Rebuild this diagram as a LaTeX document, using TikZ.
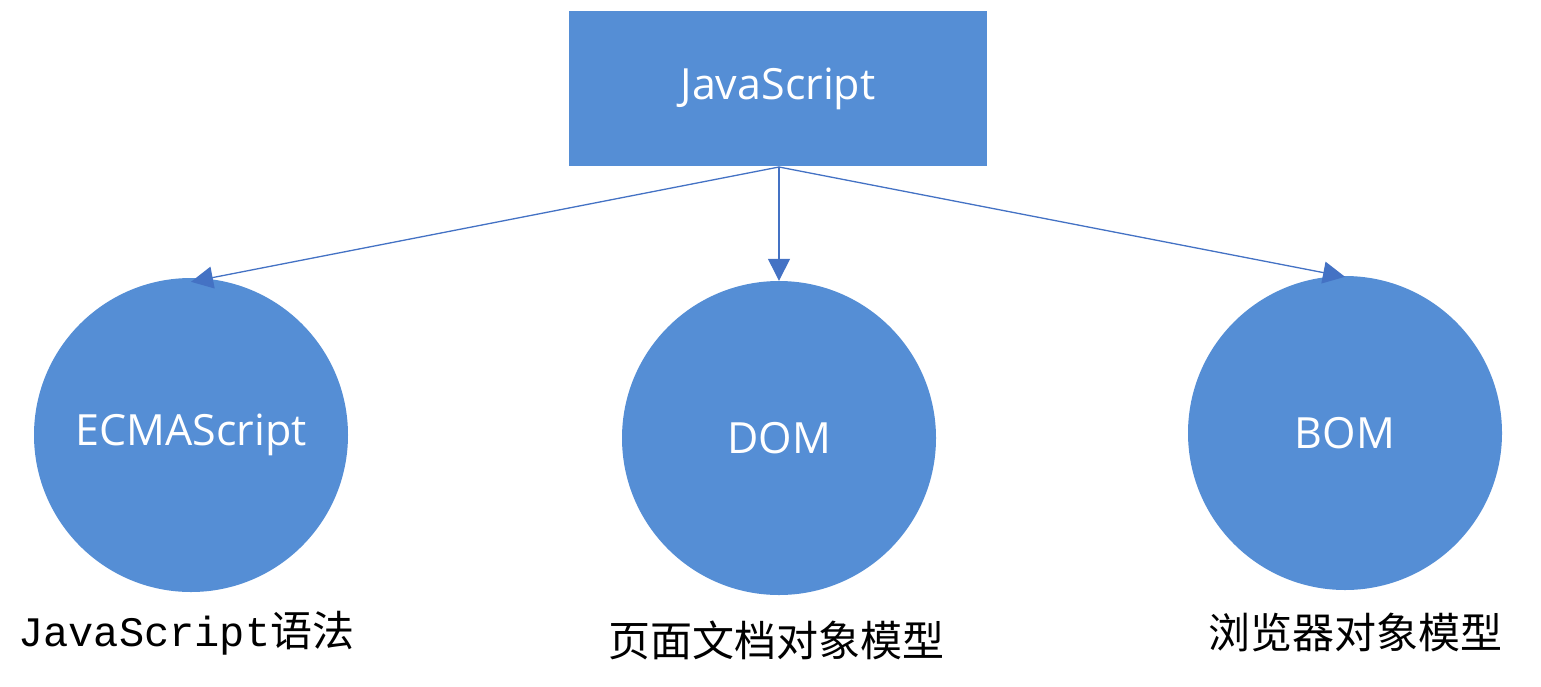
\documentclass[tikz,border=0pt]{standalone}
\usepackage{fontspec}
\setmainfont{Open Sans}
\newfontfamily\cjk{Noto Sans CJK SC}
\newfontfamily\monof{Liberation Mono}
\usetikzlibrary{arrows.meta}
\definecolor{fillblue}{HTML}{558ED5}
\definecolor{lineblue}{HTML}{4472C4}
\tikzset{
  topbox/.style={rectangle, fill=fillblue, minimum width=418pt, minimum height=155pt, inner sep=0pt, text=white, font=\fontsize{43}{48}\selectfont},
  ball/.style={circle, fill=fillblue, minimum size=314pt, inner sep=0pt, text=white, font=\fontsize{43}{48}\selectfont},
  link/.style={draw=lineblue, line width=1.3pt, -{Triangle[length=22pt,width=22pt]}},
  caption/.style={inner sep=0pt, text=black, font=\fontsize{42}{48}\selectfont}
}
\begin{document}
\begin{tikzpicture}[x=1pt,y=-1pt]
\useasboundingbox (0,0) rectangle (1541,686);
\node[topbox] (js) at (778,88.5) {JavaScript};
\node[ball] (ecma) at (191,435) {ECMAScript};
\node[ball] (dom) at (779,438) {DOM};
\node[ball] (bom) at (1345,433) {BOM};
\coordinate (src) at (779,167);
\draw[link] (src) -- ([yshift=-4pt]ecma.north);
\draw[link] (src) -- (dom.north);
\draw[link] (src) -- ([yshift=-1pt]bom.north);
\node[caption, anchor=west] (c1) at (18,633) {\monof JavaScript\cjk 语法};
\node[caption] (c2) at (776,640) {\cjk 页面文档对象模型};
\node[caption] (c3) at (1355,632) {\cjk 浏览器对象模型};
\end{tikzpicture}
\end{document}
